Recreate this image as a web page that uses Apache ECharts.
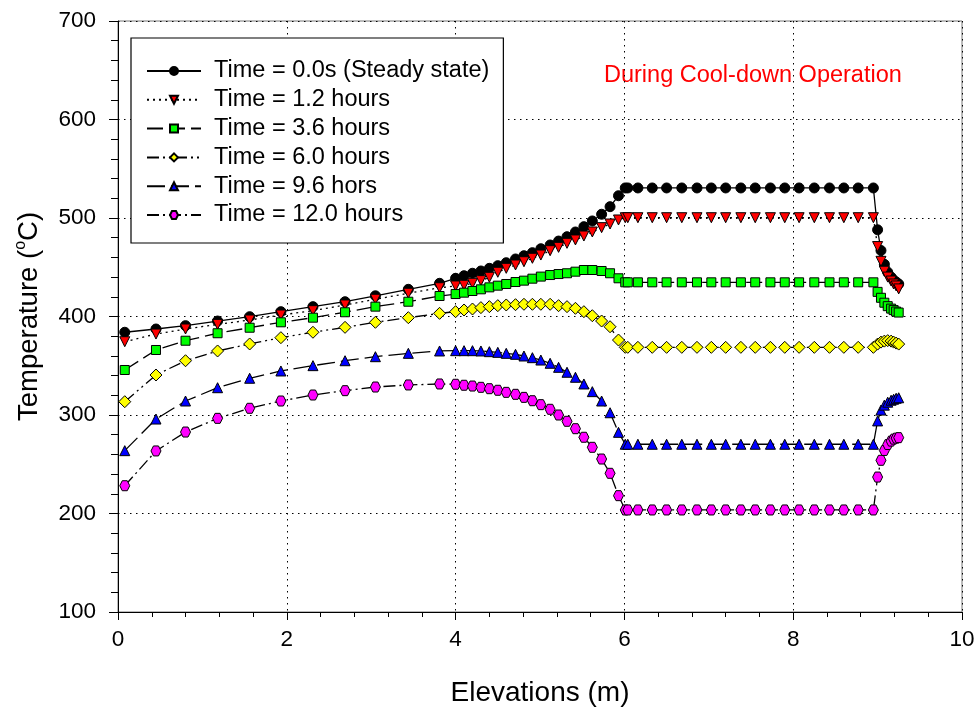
<!DOCTYPE html>
<html>
<head>
<meta charset="utf-8">
<script src="https://cdn.jsdelivr.net/npm/echarts@6/dist/echarts.min.js"></script>
<style>html,body{margin:0;padding:0;background:#fff;}#c{width:980px;height:713px;}</style>
</head>
<body>
<div id="c"></div>
<script>
// Elevations (m)
var elevations = [
  0.08, 0.45, 0.80, 1.18, 1.56, 1.93, 2.31, 2.69, 3.05, 3.44, 3.81,
  4.00, 4.10, 4.20, 4.30, 4.40, 4.50, 4.60, 4.71, 4.81, 4.91, 5.01, 5.12, 5.22, 5.32, 5.42, 5.52, 5.62, 5.73, 5.83, 5.93, 6.01, 6.04,
  6.16, 6.33, 6.50, 6.68, 6.86, 7.03, 7.20, 7.38, 7.55, 7.73, 7.90, 8.07, 8.25, 8.43, 8.60, 8.77, 8.95,
  9.00, 9.04, 9.08, 9.12, 9.16, 9.19, 9.22, 9.25
];
var seriesNames = ['Time = 0.0s (Steady state)', 'Time = 1.2 hours', 'Time = 3.6 hours', 'Time = 6.0 hours', 'Time = 9.6 hors', 'Time = 12.0 hours'];
var tempSteady = [
  384, 387.3, 390.7, 395.4, 399.8, 404.9, 410, 415, 421, 427.6, 433.7,
  438.8, 441.4, 443.9, 446.2, 448.9, 451.6, 454.6, 458.4, 461.7, 464.8, 468.8, 472.6, 476.6, 481, 485.8, 491.2, 497, 503.8, 511.5, 522.6, 530.5, 530.5,
  530.5, 530.5, 530.5, 530.5, 530.5, 530.5, 530.5, 530.5, 530.5, 530.5, 530.5, 530.5, 530.5, 530.5, 530.5, 530.5, 530.5,
  488, 467, 453, 445, 440, 437, 435, 433
];
var temp1h2 = [
  374.4, 382.2, 387.3, 392, 396.4, 401.5, 405.9, 411.7, 417.5, 423.6, 429.2,
  431, 431.7, 433.7, 436.4, 439.8, 444.9, 448.9, 452.3, 455.6, 459.1, 462.4, 466.8, 470.2, 474.3, 477.7, 481.7, 485.8, 490.2, 493.9, 498, 500.3, 500.3,
  500.3, 500.3, 500.3, 500.3, 500.3, 500.3, 500.3, 500.3, 500.3, 500.3, 500.3, 500.3, 500.3, 500.3, 500.3, 500.3, 500.3,
  471, 456, 446, 440, 436, 433, 431, 428
];
var temp3h6 = [
  345.7, 366, 375.4, 383, 388.6, 394.1, 398.8, 404.3, 410, 415, 420.8,
  422.8, 424.2, 425.9, 427.6, 429.6, 431.3, 433, 435, 436.4, 438.4, 440.5, 442.1, 443.1, 443.9, 445.5, 447.2, 447.2, 446.2, 443.9, 438.8, 434.7, 434.7,
  434.7, 434.7, 434.7, 434.7, 434.7, 434.7, 434.7, 434.7, 434.7, 434.7, 434.7, 434.7, 434.7, 434.7, 434.7, 434.7, 434.7,
  425, 419, 414, 410.5, 408, 406.5, 405, 404
];
var temp6h0 = [
  313.5, 340.6, 355.1, 365, 372.1, 378.5, 384, 389, 394.1, 398.8, 403.2,
  404.9, 406.6, 407.6, 409, 410, 411, 411.7, 412, 412.4, 412.4, 412.4, 412.4, 411, 410, 408.3, 404.9, 400.8, 395.4, 389.6, 376.1, 368.7, 368.7,
  368.7, 368.7, 368.7, 368.7, 368.7, 368.7, 368.7, 368.7, 368.7, 368.7, 368.7, 368.7, 368.7, 368.7, 368.7, 368.7, 368.7,
  372, 374, 375, 375.5, 375, 374, 373, 372
];
var temp9h6 = [
  263.8, 295.9, 314.2, 327.7, 337.3, 344.7, 350.1, 355.1, 359.2, 362.6, 365,
  365.3, 365.3, 365.3, 365, 364.3, 363.6, 362.6, 361.6, 359.9, 358.2, 355.8, 352.5, 348.4, 343.4, 338.3, 331.5, 323.7, 314.2, 302.3, 282.4, 270.3, 270.3,
  270.3, 270.3, 270.3, 270.3, 270.3, 270.3, 270.3, 270.3, 270.3, 270.3, 270.3, 270.3, 270.3, 270.3, 270.3, 270.3, 270.3,
  294, 305, 310, 313, 315, 316, 317, 317.5
];
var temp12h0 = [
  228.2, 263.5, 282.7, 296.6, 306.8, 314.2, 320.3, 324.7, 328.4, 330.5, 331.5,
  331.2, 330.2, 329.4, 328.1, 326.7, 325.1, 323, 321, 317.9, 314.5, 310.5, 305.8, 300, 293.6, 286.1, 277.4, 267.2, 255.3, 240.8, 218.1, 203.6, 203.6,
  203.6, 203.6, 203.6, 203.6, 203.6, 203.6, 203.6, 203.6, 203.6, 203.6, 203.6, 203.6, 203.6, 203.6, 203.6, 203.6, 203.6,
  237, 254, 264, 270, 273.5, 275.5, 276.5, 277
];
var xTicks = [0, 2, 4, 6, 8, 10];
var yTicks = [100, 200, 300, 400, 500, 600, 700];
var annotation = 'During Cool-down Operation';

var FONT = '"Liberation Sans", Arial, sans-serif';
var hexPath = 'path://M2,0 L6,0 L8,3.46 L6,6.93 L2,6.93 L0,3.46 Z';

function zip(xs, ys) { return xs.map(function (x, i) { return [x, ys[i]]; }); }

var styles = [
  { data: tempSteady, symbol: 'circle', size: 10, rot: 0, color: '#000000', dash: 'solid' },
  { data: temp1h2, symbol: 'triangle', size: 10, rot: 180, color: '#ff0000', dash: [2, 4] },
  { data: temp3h6, symbol: 'rect', size: 9, rot: 0, color: '#00ff00', dash: [16, 6] },
  { data: temp6h0, symbol: 'diamond', size: 12, rot: 0, color: '#ffff00', dash: [12, 4, 2, 4, 2, 4] },
  { data: temp9h6, symbol: 'triangle', size: 10, rot: 0, color: '#0000ff', dash: [18, 6] },
  { data: temp12h0, symbol: hexPath, size: 10, rot: 0, color: '#ff00ff', dash: [12, 4, 2, 4] }
];

var series = styles.map(function (s, i) {
  return {
    name: seriesNames[i],
    type: 'line',
    data: zip(elevations, s.data),
    symbol: s.symbol,
    symbolSize: s.size,
    symbolRotate: s.rot,
    showAllSymbol: true,
    animation: false,
    lineStyle: { color: '#000000', width: 1.3, type: s.dash },
    itemStyle: { color: s.color, borderColor: '#000000', borderWidth: 1 },
    z: 2 + i
  };
});

var chart = echarts.init(document.getElementById('c'), null, { renderer: 'canvas' });
chart.setOption({
  animation: false,
  backgroundColor: '#ffffff',
  grid: { left: 118, right: 18, top: 21, bottom: 101, show: true, borderColor: '#777777', borderWidth: 1, backgroundColor: 'transparent' },
  xAxis: {
    type: 'value', min: xTicks[0], max: xTicks[xTicks.length - 1], interval: 2,
    name: 'Elevations (m)', nameLocation: 'middle', nameGap: 67,
    nameTextStyle: { fontSize: 28, color: '#000', fontFamily: FONT },
    axisLine: { show: true, onZero: false, lineStyle: { color: '#000', width: 1 } },
    axisTick: { show: true, inside: false, length: 8, lineStyle: { color: '#000' } },
    minorTick: { show: true, splitNumber: 5, length: 5, lineStyle: { color: '#000' } },
    axisLabel: { fontSize: 22.5, color: '#000', fontFamily: FONT, margin: 16 },
    splitLine: { show: true, lineStyle: { color: '#000', type: [1.5, 4.5], width: 1 } }
  },
  yAxis: {
    type: 'value', min: yTicks[0], max: yTicks[yTicks.length - 1], interval: 100,
    name: 'Temperature ({sup|o}C)', nameLocation: 'middle', nameGap: 73, nameRotate: 90,
    nameTextStyle: { fontSize: 27.5, color: '#000', fontFamily: FONT, lineHeight: 32,
      rich: { sup: { fontSize: 16, color: '#000', fontFamily: FONT, verticalAlign: 'top', lineHeight: 32, padding: [0, 0, 8, 0] } } },
    axisLine: { show: true, onZero: false, lineStyle: { color: '#000', width: 1 } },
    axisTick: { show: true, inside: false, length: 9, lineStyle: { color: '#000' } },
    minorTick: { show: true, splitNumber: 5, length: 7, lineStyle: { color: '#000' } },
    axisLabel: { fontSize: 22.5, color: '#000', fontFamily: FONT, margin: 22 },
    splitLine: { show: true, lineStyle: { color: '#000', type: [1.5, 4.5], width: 1 } }
  },
  legend: {
    show: true, orient: 'vertical', left: 131, top: 38,
    padding: [21, 14, 16, 15], itemGap: 4.8, itemWidth: 54, itemHeight: 10,
    backgroundColor: '#ffffff', borderColor: '#000000', borderWidth: 1.2,
    textStyle: { fontSize: 23.5, color: '#000', fontFamily: FONT, lineHeight: 23, padding: [0, 0, 0, 8] },
    data: seriesNames
  },
  graphic: [{
    type: 'text', left: 604, top: 64,
    style: { text: annotation, fill: '#ff0000', font: '23.5px ' + FONT }
  }],
  series: series
});
</script>
</body>
</html>
